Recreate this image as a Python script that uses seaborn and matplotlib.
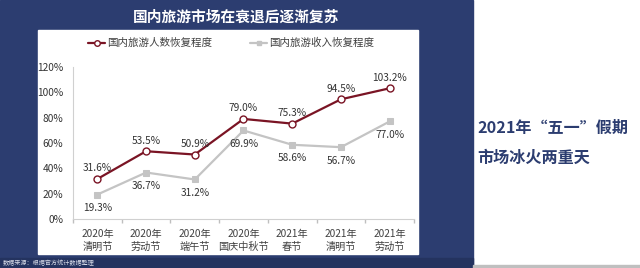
import matplotlib
matplotlib.use("Agg")
import matplotlib.pyplot as plt
import seaborn as sns
import pandas as pd
import numpy as np
from matplotlib.patches import Rectangle

categories = ["2020年\n清明节", "2020年\n劳动节", "2020年\n端午节", "2020年\n国庆中秋节",
              "2021年\n春节", "2021年\n清明节", "2021年\n劳动节"]
visitors = [31.6, 53.5, 50.9, 79.0, 75.3, 94.5, 103.2]
revenue = [19.3, 36.7, 31.2, 69.9, 58.6, 56.7, 77.0]
series_names = ["国内旅游人数恢复程度", "国内旅游收入恢复程度"]
yticks = [0, 20, 40, 60, 80, 100, 120]

sns.set_theme(style="white")
plt.rcParams['font.family'] = ['Noto Sans CJK SC', 'DejaVu Sans']

W, H = 640, 268
fig = plt.figure(figsize=(W / 100, H / 100), dpi=100)
fig.patch.set_facecolor("white")

navy = "#2C3D70"
def rect(x0, y0, x1, y1, color, z=-5):
    fig.patches.append(Rectangle((x0 / W, 1 - y1 / H), (x1 - x0) / W, (y1 - y0) / H,
                                 transform=fig.transFigure, color=color, zorder=z))

rect(0, 0, 473, 268, navy, -5)
rect(0, 258, 473, 268, "#24335F", -4)
rect(38, 30, 418, 254, "white", -3)
rect(473, 265, 640, 268, "#BFBFBF", -4)

ax = fig.add_axes([73 / W, 1 - 219 / H, (414 - 73) / W, (219 - 67) / H])
ax.set_facecolor("none")

df = pd.DataFrame({"x": np.arange(len(categories)), "visitors": visitors, "revenue": revenue})
red = "#7A1424"
grey = "#C4C4C4"
sns.lineplot(data=df, x="x", y="revenue", ax=ax, color=grey, lw=1.6, marker="s",
             markersize=4, markeredgecolor=grey, zorder=2)
sns.lineplot(data=df, x="x", y="visitors", ax=ax, color=red, lw=1.6, marker="o",
             markersize=5, markerfacecolor="white", markeredgecolor=red, markeredgewidth=1.0, zorder=3)

for i, (v, r) in enumerate(zip(visitors, revenue)):
    ax.annotate(f"{v:.1f}%", (i, v), xytext=(0, 4), textcoords="offset points",
                ha="center", va="bottom", fontsize=7.3, color="#333333")
    ax.annotate(f"{r:.1f}%", (i, r), xytext=(0, -6), textcoords="offset points",
                ha="center", va="top", fontsize=7.3, color="#333333")

ax.set_xlim(-0.5, len(categories) - 0.5)
ax.set_ylim(0, 120)
ax.set_yticks(yticks)
ax.set_yticklabels([f"{t}%" for t in yticks], fontsize=7.3, color="#333333")
ax.set_xticks(df["x"])
ax.set_xticklabels(categories, fontsize=7.3, color="#404040", linespacing=1.4)
ax.set_xticks(np.arange(-0.5, len(categories)), minor=True)
ax.tick_params(axis="x", which="major", length=0, pad=7)
ax.tick_params(axis="x", which="minor", length=3, color="#BFBFBF", direction="out", bottom=True)
ax.tick_params(axis="y", length=0, pad=7)
ax.set_xlabel("")
ax.set_ylabel("")
for s in ["top", "right"]:
    ax.spines[s].set_visible(False)
for s in ["left", "bottom"]:
    ax.spines[s].set_color("#D0D0D0")
    ax.spines[s].set_linewidth(0.8)

# legend
ly = 1 - 43 / H
fig.lines.append(plt.Line2D([88 / W, 97 / W, 105 / W], [ly, ly, ly], color=red, lw=1.6, marker="o",
                            markevery=[1], markersize=4, markerfacecolor="white",
                            markeredgecolor=red, transform=fig.transFigure, zorder=5))
fig.text(107 / W, ly, series_names[0], fontsize=7.6, color="#404040", va="center", zorder=5)
fig.lines.append(plt.Line2D([250 / W, 259 / W, 267 / W], [ly, ly, ly], color=grey, lw=1.6, marker="s",
                            markevery=[1], markersize=3, markeredgecolor=grey,
                            transform=fig.transFigure, zorder=5))
fig.text(269 / W, ly, series_names[1], fontsize=7.6, color="#404040", va="center", zorder=5)

fig.text(236 / W, 1 - 17 / H, "国内旅游市场在衰退后逐渐复苏", fontsize=10.6, fontweight="bold",
         color="white", ha="center", va="center", zorder=5)
fig.text(3 / W, 1 - 263 / H, "数据来源：根据官方统计数据整理", fontsize=4.4, color="#D8DCE8",
         va="center", zorder=5)
fig.text(477 / W, 1 - 128 / H, "2021年“五一”假期", fontsize=11.6, fontweight="bold",
         color=navy, va="center", zorder=5)
fig.text(477 / W, 1 - 158 / H, "市场冰火两重天", fontsize=11.6, fontweight="bold",
         color=navy, va="center", zorder=5)

fig.savefig("out.png", dpi=100, facecolor=fig.get_facecolor())
